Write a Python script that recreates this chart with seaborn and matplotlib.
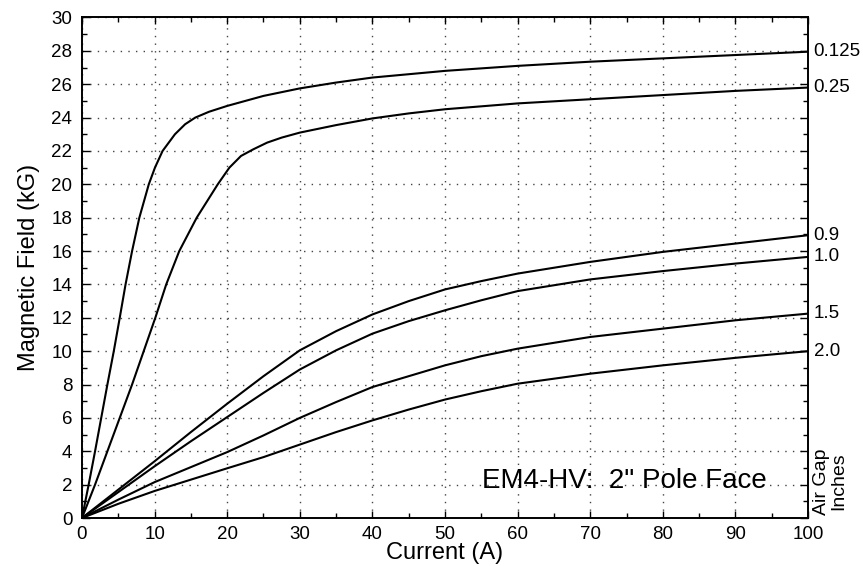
import numpy as np
import pandas as pd
import matplotlib
matplotlib.use("Agg")
import matplotlib.pyplot as plt
import matplotlib.transforms as mtransforms
from matplotlib.ticker import MultipleLocator
import seaborn as sns

# ---- data ----
gap_labels = ["0.125", "0.25", "0.9", "1.0", "1.5", "2.0"]

current_0125 = [0, 0.92, 1.8, 2.65, 3.5, 4.38, 5.2, 6.0, 6.9, 7.9, 9.2, 10.05, 11.1, 12.8, 14.2, 15.6, 17.5, 20, 25, 30, 35, 40, 50, 60, 70, 80, 90, 100]
field_0125 = [0, 2, 4, 6, 8, 10, 12, 14, 16, 18, 20, 21, 22, 23, 23.6, 24, 24.35, 24.7, 25.3, 25.75, 26.1, 26.4, 26.8, 27.1, 27.35, 27.55, 27.75, 27.95]

current_025 = [0, 1.8, 3.5, 5.2, 6.9, 8.5, 10.1, 11.6, 13.4, 15.8, 18.7, 20.3, 21.9, 23.6, 25.5, 27.5, 30, 35, 40, 45, 50, 60, 70, 80, 90, 100]
field_025 = [0, 2, 4, 6, 8, 10, 12, 14, 16, 18, 20, 21, 21.7, 22.1, 22.5, 22.8, 23.1, 23.55, 23.95, 24.25, 24.5, 24.85, 25.1, 25.35, 25.6, 25.8]

current_low = [0, 5, 10, 15, 20, 25, 30, 35, 40, 45, 50, 55, 60, 70, 80, 90, 100]
field_09 = [0, 1.7, 3.4, 5.15, 6.85, 8.5, 10.05, 11.2, 12.2, 13.0, 13.7, 14.2, 14.65, 15.35, 15.95, 16.45, 16.95]
field_10 = [0, 1.55, 3.1, 4.6, 6.05, 7.5, 8.9, 10.05, 11.05, 11.8, 12.45, 13.05, 13.6, 14.3, 14.8, 15.25, 15.65]
field_15 = [0, 1.1, 2.15, 3.05, 3.95, 4.95, 6.0, 6.95, 7.85, 8.5, 9.15, 9.7, 10.15, 10.85, 11.35, 11.85, 12.25]
field_20 = [0, 0.85, 1.62, 2.3, 2.98, 3.65, 4.4, 5.15, 5.85, 6.5, 7.1, 7.6, 8.05, 8.65, 9.15, 9.6, 10.0]

x_ticks = list(range(0, 101, 10))
y_ticks = list(range(0, 31, 2))

series = [
    ("0.125", current_0125, field_0125),
    ("0.25", current_025, field_025),
    ("0.9", current_low, field_09),
    ("1.0", current_low, field_10),
    ("1.5", current_low, field_15),
    ("2.0", current_low, field_20),
]
df = pd.concat(
    [pd.DataFrame({"current": x, "field": y, "gap": g}) for g, x, y in series],
    ignore_index=True,
)

# ---- figure ----
sns.set_theme(style="white")
plt.rcParams["font.family"] = ["Liberation Sans", "DejaVu Sans"]

fig = plt.figure(figsize=(8.63, 5.66), dpi=100)
ax = fig.add_axes([0.0950, 0.0848, 0.8413, 0.8843])

sns.lineplot(
    data=df, x="current", y="field", hue="gap",
    palette={g: "black" for g in gap_labels},
    estimator=None, sort=False, legend=False, linewidth=1.5, ax=ax,
)
for ln in ax.get_lines():
    ln.set_solid_joinstyle("round")

ax.set_xlim(0, 100)
ax.set_ylim(0, 30)
ax.set_xticks(x_ticks)
ax.set_yticks(y_ticks)
ax.xaxis.set_minor_locator(MultipleLocator(5))
ax.yaxis.set_minor_locator(MultipleLocator(1))

ax.grid(True, which="major", color="#444444", linestyle=(0, (1, 4.5)), linewidth=1.0)
ax.set_axisbelow(True)

for s in ax.spines.values():
    s.set_visible(True)
    s.set_color("black")
    s.set_linewidth(1.4)

ax.tick_params(axis="both", which="both", direction="in", top=True, right=True,
               bottom=True, left=True, colors="black", width=1.0)
ax.tick_params(axis="x", which="major", length=5, pad=6, labelsize=13.5)
ax.tick_params(axis="y", which="major", length=6, pad=7, labelsize=13.5)
ax.tick_params(axis="both", which="minor", length=3.5)

ax.set_xlabel("Current (A)", fontsize=17, labelpad=-1, color="black")
ax.set_ylabel("Magnetic Field (kG)", fontsize=17, labelpad=8, color="black")

# curve end labels
for g, x, y in series:
    ax.annotate(g, xy=(x[-1], y[-1]), xytext=(4, 0), textcoords="offset points",
                ha="left", va="center", fontsize=13.5, color="black",
                annotation_clip=False)

ax.text(55.1, 2.2, "EM4-HV:  2\" Pole Face", fontsize=20, ha="left", va="center",
        color="black")

trans = mtransforms.blended_transform_factory(ax.transAxes, ax.transData)
ax.text(1.0303, 2.2, "Air Gap\nInches", transform=trans, rotation=90,
        ha="center", va="center", multialignment="center", fontsize=14,
        color="black", linespacing=1.0)

fig.savefig("out.png", dpi=100, facecolor="white")
